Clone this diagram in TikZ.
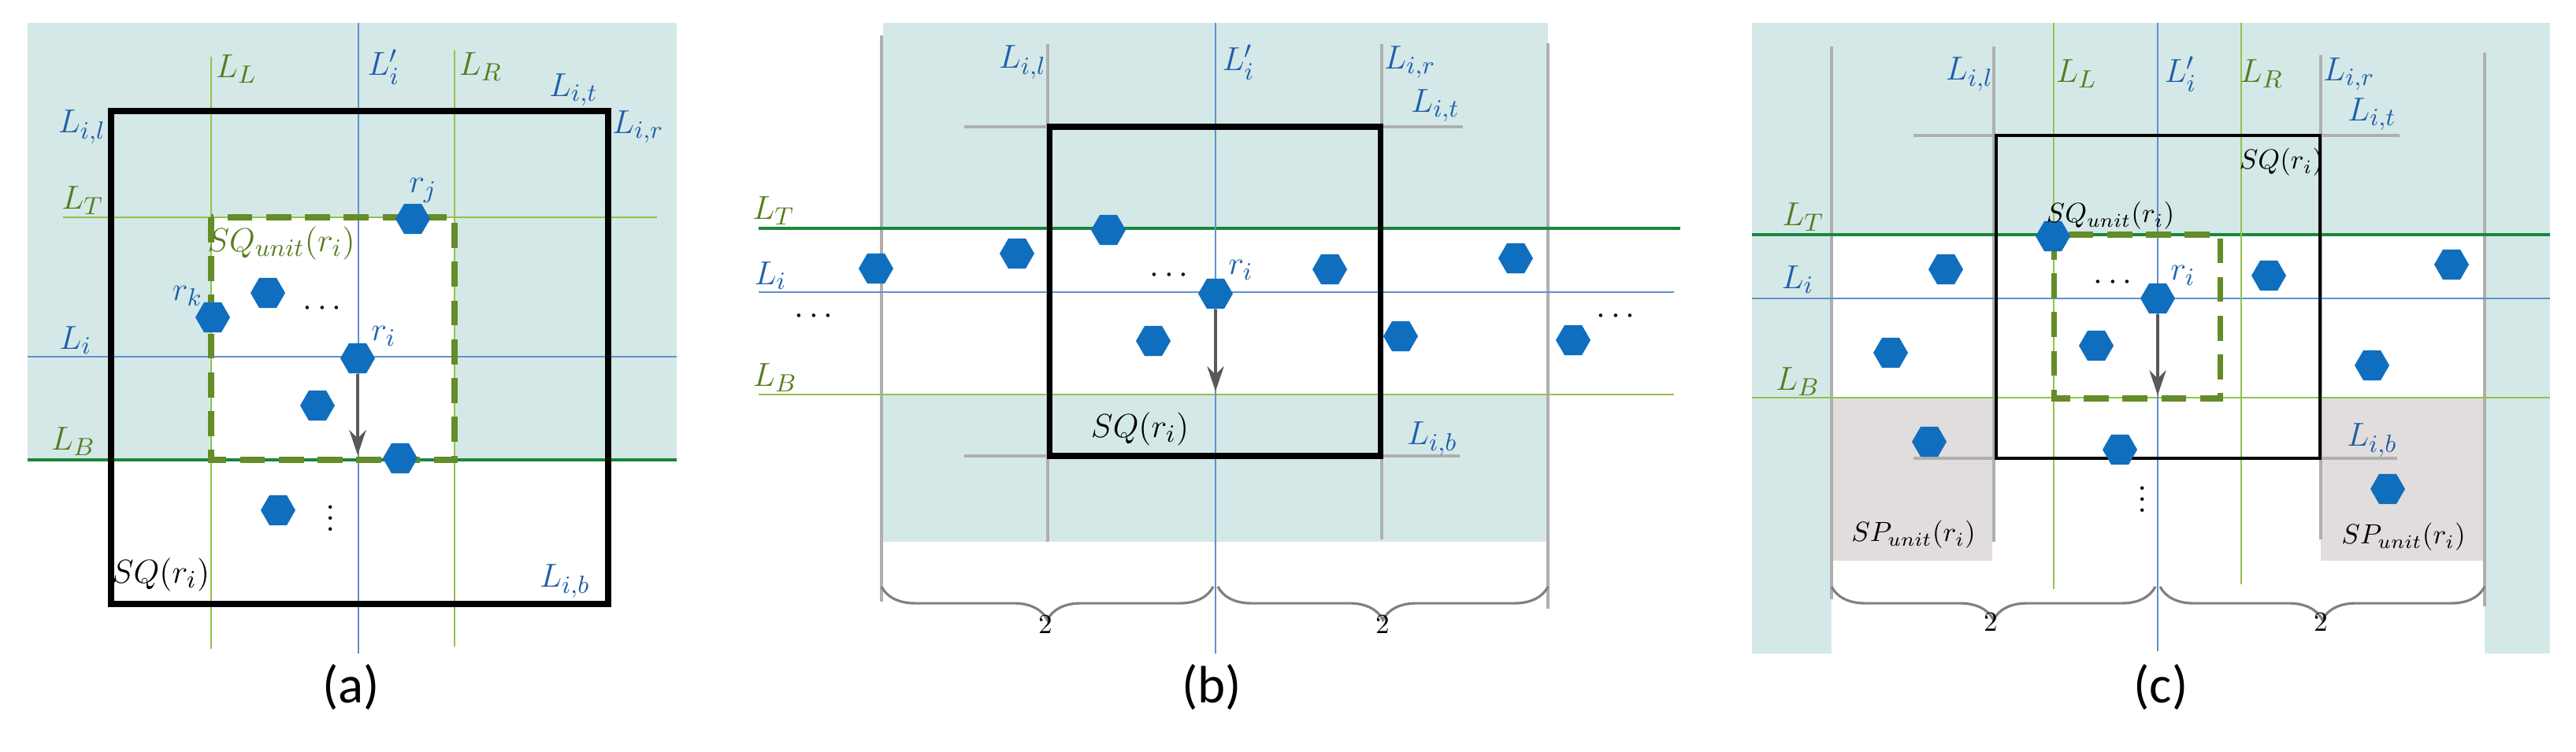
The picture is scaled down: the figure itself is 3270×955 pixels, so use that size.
\documentclass[tikz,border=0pt]{standalone}
\usepackage{fontspec}
\newfontfamily\capfont{Carlito}
\usetikzlibrary{shapes.geometric,decorations.pathreplacing,arrows.meta}
\definecolor{bgb}{RGB}{213,232,232}
\definecolor{hexb}{RGB}{16,110,190}
\definecolor{lgr}{RGB}{145,195,75}
\definecolor{dgr}{RGB}{25,135,60}
\definecolor{lbl}{RGB}{95,145,205}
\definecolor{gry}{RGB}{175,175,175}
\definecolor{pnk}{RGB}{226,221,221}
\definecolor{dash}{RGB}{100,140,40}
\definecolor{tb}{RGB}{30,95,170}
\definecolor{tg}{RGB}{85,125,30}
\begin{document}
\begin{tikzpicture}[x=0.01cm,y=-0.01cm,
  hex/.style={regular polygon,regular polygon sides=6,fill=hexb,draw=none,inner sep=0pt,minimum size=0.44cm},
  lab/.style={font=\fontsize{13}{15}\selectfont,inner sep=0pt},
  bl/.style={lab,text=tb},
  gl/.style={lab,text=tg},
  sm/.style={font=\fontsize{10}{12}\selectfont,inner sep=0pt},
  panelcap/.style={font=\capfont\fontsize{19}{22}\selectfont,inner sep=0pt},
  lgl/.style={draw=lgr,line width=0.8pt},
  dgl/.style={draw=dgr,line width=1.2pt},
  bll/.style={draw=lbl,line width=0.8pt},
  gyl/.style={draw=gry,line width=1pt},
  sq/.style={draw=black,line width=2pt},
  dsq/.style={draw=dash,line width=2pt,dash pattern=on 9pt off 5pt},
  arr/.style={draw=black!65,line width=1.3pt,-{Stealth[length=9pt,width=6pt]}},
  brc/.style={draw=gray,line width=0.9pt,decorate,decoration={brace,mirror,amplitude=12pt}}]
\useasboundingbox (0,0) rectangle (3270,955);
% ================= (a)
\fill[bgb] (35,29) rectangle (859,584);
\fill[white] (268,276) rectangle (577,584);
\draw[lgl] (268,72) -- (268,824);
\draw[lgl] (577,64) -- (577,821);
\draw[lgl] (80,276) -- (834,276);
\draw[bll] (455,29) -- (455,830);
\draw[bll] (35,453) -- (859,453);
\draw[dgl] (35,584) -- (859,584);
\draw[sq] (141,141) rectangle (772,767);
\draw[dsq] (268,276) rectangle (577,584);
\node[hex] (aj) at (524,278) {};
\node[hex] (ak) at (270,403) {};
\node[hex] (a1) at (340,372) {};
\node[hex] (ai) at (454,455) {};
\node[hex] (a2) at (403,515) {};
\node[hex] (a3) at (508,582) {};
\node[hex] (a4) at (353,648) {};
\coordinate (aend) at (454,578);
\draw[arr] (ai.south) -- (aend);
\node[lab] (ad1) at (409,392) {$\cdots$};
\node[lab] (ad2) at (420,648) {$\vdots$};
\node[gl] at (300,88) {$L_L$};
\node[bl] at (487,85) {$L'_i$};
\node[gl] at (610,85) {$L_R$};
\node[bl] at (728,114) {$L_{i,t}$};
\node[bl] at (104,161) {$L_{i,l}$};
\node[bl] at (810,161) {$L_{i,r}$};
\node[gl] at (105,255) {$L_T$};
\node[bl] at (537,242) {$r_j$};
\node[gl] at (357,309) {$SQ_{unit}(r_i)$};
\node[bl] at (238,376) {$r_k$};
\node[bl] at (96,432) {$L_i$};
\node[bl] at (487,427) {$r_i$};
\node[gl] at (93,561) {$L_B$};
\node[lab] at (204,730) {$SQ(r_i)$};
\node[bl] at (717,738) {$L_{i,b}$};
\node[panelcap] at (446,873) {(a)};
% ================= (b)
\fill[bgb] (1121,29) rectangle (1965,688);
\fill[white] (1121,290) rectangle (1965,501);
\draw[gyl] (1119,45) -- (1119,764);
\draw[gyl] (1330,56) -- (1330,688);
\draw[gyl] (1754,56) -- (1754,685);
\draw[gyl] (1965,55) -- (1965,773);
\draw[gyl] (1224,161) -- (1857,161);
\draw[gyl] (1224,579) -- (1853,579);
\draw[dgl] (963,290) -- (2133,290);
\draw[bll] (963,371) -- (2125,371);
\draw[lgl] (963,501) -- (2125,501);
\draw[bll] (1543,29) -- (1543,830);
\draw[sq] (1332,161) rectangle (1752,579);
\node[hex] (b1) at (1112,341) {};
\node[hex] (b2) at (1291,322) {};
\node[hex] (b3) at (1407,292) {};
\node[hex] (bi) at (1543,373) {};
\node[hex] (b4) at (1688,342) {};
\node[hex] (b5) at (1924,328) {};
\node[hex] (b6) at (1464,433) {};
\node[hex] (b7) at (1778,427) {};
\node[hex] (b8) at (1997,432) {};
\coordinate (bend) at (1543,497);
\draw[arr] (bi.south) -- (bend);
\node[lab] (bd1) at (1484,350) {$\cdots$};
\node[lab] (bd2) at (1033,402) {$\cdots$};
\node[lab] (bd3) at (2051,402) {$\cdots$};
\node[bl] at (1298,79) {$L_{i,l}$};
\node[bl] at (1572,79) {$L'_i$};
\node[bl] at (1790,79) {$L_{i,r}$};
\node[bl] at (1822,134) {$L_{i,t}$};
\node[gl] at (982,268) {$L_T$};
\node[bl] at (978,350) {$L_i$};
\node[gl] at (984,480) {$L_B$};
\node[bl] at (1575,343) {$r_i$};
\node[lab] at (1447,545) {$SQ(r_i)$};
\node[bl] at (1818,557) {$L_{i,b}$};
\coordinate (b1l) at (1119,745); \coordinate (b1r) at (1540,745);
\coordinate (b2l) at (1546,745); \coordinate (b2r) at (1965,745);
\draw[brc] (b1l) -- (b1r);
\draw[brc] (b2l) -- (b2r);
\node[sm] at (1327,793) {2};
\node[sm] at (1755,793) {2};
\node[panelcap] at (1538,873) {(b)};
% ================= (c)
\fill[bgb] (2224,29) rectangle (3237,830);
\fill[white] (2325,298) rectangle (3154,830);
\fill[pnk] (2326,506) rectangle (2529,712);
\fill[pnk] (2946,506) rectangle (3152,712);
\draw[gyl] (2325,59) -- (2325,761);
\draw[gyl] (2531,59) -- (2531,688);
\draw[gyl] (2946,70) -- (2946,685);
\draw[gyl] (3154,67) -- (3154,770);
\draw[gyl] (2429,172) -- (3046,172);
\draw[gyl] (2429,582) -- (3043,582);
\draw[dgl] (2224,298) -- (3237,298);
\draw[bll] (2224,379) -- (3237,379);
\draw[lgl] (2224,505) -- (3237,505);
\draw[lgl] (2607,29) -- (2607,748);
\draw[lgl] (2845,29) -- (2845,742);
\draw[bll] (2739,29) -- (2739,827);
\draw[draw=black,line width=1.3pt] (2534,172) rectangle (2945,582);
\draw[dsq] (2607,298) rectangle (2818,506);
\node[hex] (c1) at (2606,300) {};
\node[hex] (c2) at (2470,342) {};
\node[hex] (c3) at (2880,350) {};
\node[hex] (c4) at (3112,336) {};
\node[hex] (ci) at (2739,379) {};
\node[hex] (c5) at (2400,448) {};
\node[hex] (c6) at (2661,439) {};
\node[hex] (c7) at (3011,464) {};
\node[hex] (c8) at (2449,561) {};
\node[hex] (c9) at (2691,571) {};
\node[hex] (c10) at (3031,621) {};
\coordinate (cend) at (2739,502);
\draw[arr] (ci.south) -- (cend);
\node[lab] (cd1) at (2682,359) {$\cdots$};
\node[lab] (cd2) at (2720,624) {$\vdots$};
\node[bl] at (2500,94) {$L_{i,l}$};
\node[gl] at (2636,94) {$L_L$};
\node[bl] at (2768,94) {$L'_i$};
\node[gl] at (2871,94) {$L_R$};
\node[bl] at (2982,94) {$L_{i,r}$};
\node[bl] at (3011,145) {$L_{i,t}$};
\node[sm] at (2896,206) {$SQ(r_i)$};
\node[sm] at (2679,274) {$SQ_{unit}(r_i)$};
\node[gl] at (2289,276) {$L_T$};
\node[bl] at (2282,355) {$L_i$};
\node[bl] at (2771,350) {$r_i$};
\node[gl] at (2282,485) {$L_B$};
\node[bl] at (3011,559) {$L_{i,b}$};
\node[sm] at (2429,679) {$SP_{unit}(r_i)$};
\node[sm] at (3051,682) {$SP_{unit}(r_i)$};
\coordinate (c1l) at (2325,745); \coordinate (c1r) at (2736,745);
\coordinate (c2l) at (2742,745); \coordinate (c2r) at (3154,745);
\draw[brc] (c1l) -- (c1r);
\draw[brc] (c2l) -- (c2r);
\node[sm] at (2527,790) {2};
\node[sm] at (2946,790) {2};
\node[panelcap] at (2743,873) {(c)};
\end{tikzpicture}
\end{document}
